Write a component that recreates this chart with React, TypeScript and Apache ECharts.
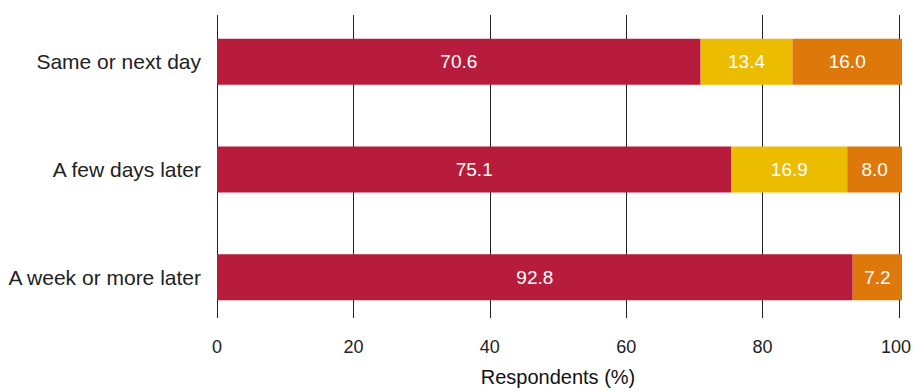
import React, { useEffect, useRef } from "react";
import * as echarts from "echarts";

const categories = ["Same or next day", "A few days later", "A week or more later"];
const redValues = [70.6, 75.1, 92.8];
const yellowValues: (number | null)[] = [13.4, 16.9, null];
const orangeValues = [16.0, 8.0, 7.2];
const xTicks = [0, 20, 40, 60, 80, 100];

const FONT = "'Liberation Sans', Arial, sans-serif";

export default function App() {
  const ref = useRef<HTMLDivElement>(null);

  useEffect(() => {
    if (!ref.current) return;
    const chart = echarts.init(ref.current, null, { renderer: "svg" });

    const label = {
      show: true,
      position: "inside" as const,
      color: "#ffffff",
      fontFamily: FONT,
      fontSize: 19,
      formatter: (p: any) => (p.value == null ? "" : Number(p.value).toFixed(1)),
    };

    const mkSeries = (data: (number | null)[], color: string) => ({
      type: "bar",
      stack: "total",
      xAxisIndex: 0,
      yAxisIndex: 0,
      barWidth: 46,
      data,
      itemStyle: { color },
      label,
      z: 3,
    });

    const lastTick = xTicks[xTicks.length - 1];

    chart.setOption({
      animation: false,
      grid: [
        { left: 217, right: 12, top: 8, height: 323 },
        { left: 217, right: 12, top: 15, height: 308 },
      ],
      xAxis: [
        {
          gridIndex: 0,
          type: "value",
          min: 0,
          max: 100,
          show: false,
        },
        {
          gridIndex: 1,
          type: "value",
          min: xTicks[0],
          max: lastTick,
          interval: 20,
          axisLine: { show: false },
          axisTick: { show: false },
          splitLine: { show: true, lineStyle: { color: "#222", width: 1 } },
          axisLabel: {
            color: "#222",
            fontFamily: FONT,
            fontSize: 18,
            margin: 20,
            // keep the last tick label inside the canvas
            formatter: (v: number) => (v === lastTick ? `{edge|${v}}` : `${v}`),
            rich: {
              edge: {
                color: "#222",
                fontFamily: FONT,
                fontSize: 18,
                padding: [0, 6, 0, 0],
              },
            },
          },
          name: "Respondents (%)",
          nameLocation: "middle",
          nameGap: 49,
          nameTextStyle: { color: "#111", fontFamily: FONT, fontSize: 20 },
        },
      ],
      yAxis: [
        {
          gridIndex: 0,
          type: "category",
          data: categories,
          inverse: true,
          axisLine: { show: false },
          axisTick: { show: false },
          splitLine: { show: false },
          axisLabel: {
            color: "#222",
            fontFamily: FONT,
            fontSize: 21,
            margin: 16,
          },
        },
        {
          gridIndex: 1,
          type: "category",
          data: categories,
          show: false,
        },
      ],
      series: [
        mkSeries(redValues, "#B71C3C"),
        mkSeries(yellowValues, "#EBBC00"),
        mkSeries(orangeValues, "#DF780A"),
      ],
    });

    return () => chart.dispose();
  }, []);

  return (
    <div
      ref={ref}
      style={{
        position: "fixed",
        left: 0,
        top: 0,
        width: 914,
        height: 392,
        background: "#fff",
      }}
    />
  );
}
